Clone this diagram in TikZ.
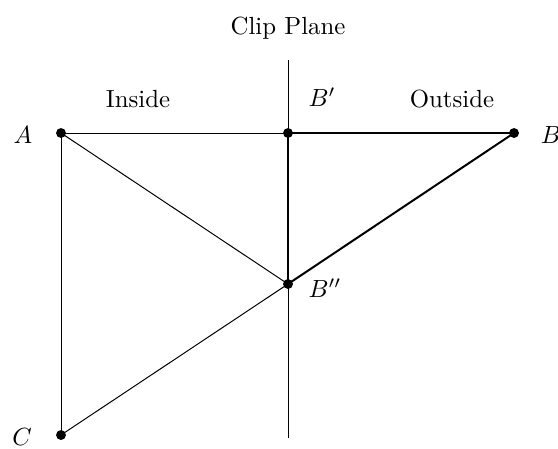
\documentclass[tikz,border=0pt]{standalone}
\begin{document}
\begin{tikzpicture}[x=0.4032pt,y=-0.4032pt,
  dot/.style={circle,fill=black,inner sep=0pt,minimum size=4pt},
  thinline/.style={line width=0.4pt},
  thickline/.style={line width=0.8pt},
  lbl/.style={inner sep=0pt}]
\useasboundingbox (0,0) rectangle (558,448);
\node[dot] (A) at (61,133) {};
\node[dot] (Bp) at (288,133) {};
\node[dot] (B) at (514,133) {};
\node[dot] (Bpp) at (288,284) {};
\node[dot] (C) at (61,435) {};
\coordinate (top) at (288,60);
\coordinate (bot) at (288,438);
\draw[thinline] (top) -- (bot);
\draw[thinline] (A.center) -- (Bp.center);
\draw[thinline] (A.center) -- (Bpp.center);
\draw[thinline] (A.center) -- (C.center);
\draw[thinline] (C.center) -- (Bpp.center);
\draw[thickline] (Bp.center) -- (B.center);
\draw[thickline] (Bp.center) -- (Bpp.center);
\draw[thickline] (Bpp.center) -- (B.center);
\node[lbl] (clip) at (288,28) {Clip Plane};
\node[lbl] (inside) at (138,99) {Inside};
\node[lbl] (outside) at (452,99) {Outside};
\node[lbl] (lA) at (23,135) {$A$};
\node[lbl] (lB) at (551,135) {$B$};
\node[lbl] (lBp) at (322,97) {$B'$};
\node[lbl] (lBpp) at (325,288) {$B''$};
\node[lbl] (lC) at (22,437) {$C$};
\end{tikzpicture}
\end{document}
